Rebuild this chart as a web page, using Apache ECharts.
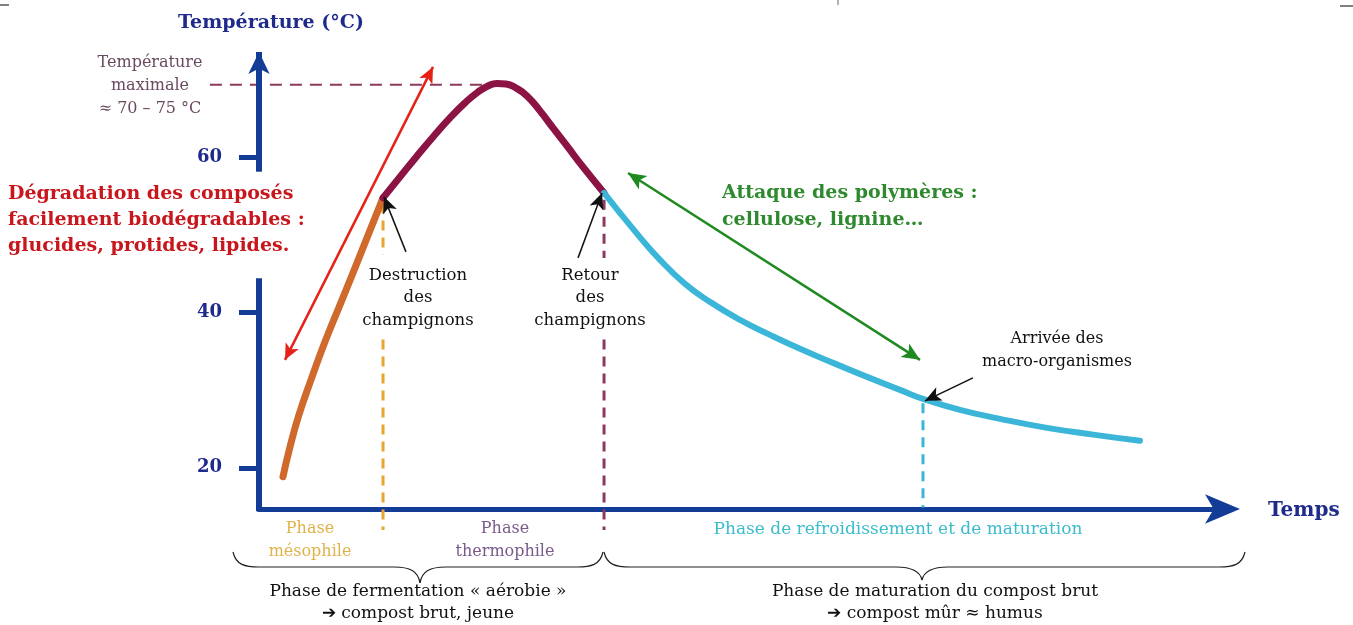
<!DOCTYPE html>
<html lang="fr">
<head>
<meta charset="UTF-8">
<title>Température du compost</title>
<style>
  html, body { margin: 0; padding: 0; background: #fff; }
  #chart { width: 1353px; height: 625px; }
</style>
</head>
<body>
<div id="chart"></div>
<script src="https://cdn.jsdelivr.net/npm/echarts@6/dist/echarts.min.js"></script>
<script>
// courbe de température par phase : [temps (unités arbitraires), °C]
var mesophilePts = [[2.49, 18.84], [3.22, 22.70], [4.15, 26.82], [5.40, 31.32], [6.85, 36.21],
    [8.41, 40.96], [9.97, 45.72], [11.42, 50.23], [12.88, 54.73]];
var thermophilePts = [[12.88, 54.73], [14.64, 57.43], [16.41, 60.13], [18.07, 62.57], [19.83, 65.02],
    [21.39, 66.95], [22.74, 68.36], [23.78, 69.13], [24.71, 69.45], [25.65, 69.39], [26.69, 68.87],
    [27.83, 67.85], [29.18, 65.92], [30.53, 63.73], [31.98, 61.41], [33.64, 58.71], [35.83, 55.37]];
var maturationPts = [[35.83, 55.37], [38.84, 50.74], [41.64, 46.75], [44.24, 43.67], [46.83, 41.35],
    [49.95, 39.04], [53.06, 37.11], [56.18, 35.31], [59.61, 33.50], [63.14, 31.70], [66.56, 30.03],
    [68.95, 28.87], [72.79, 27.46], [76.95, 26.30], [81.83, 25.14], [86.81, 24.24], [91.48, 23.47]];

var yTicks = [20, 40, 60];
var yRange = [14.7, 73.5];
var xRange = [0, 100];

// repères (mêmes unités que la courbe)
var maxTempLine = [[-5.1, 69.3], [23.5, 69.3]];
var mesoLimitTop = [[12.88, 54.0], [12.88, 47.4]];
var mesoLimitLow = [[12.88, 36.5], [12.88, 12.0]];
var thermoLimitTop = [[35.83, 54.5], [35.83, 47.0]];
var thermoLimitLow = [[35.83, 36.5], [35.83, 12.0]];
var macroLimit = [[68.95, 28.3], [68.95, 14.9]];
var yAxisLow = [[0, 14.4], [0, 44.4]];
var yAxisHigh = [[0, 58.1], [0, 73.5]];
var degradationArrow = [[2.70, 33.89], [18.07, 71.58]];
var polymerArrow = [[38.32, 57.94], [68.64, 33.89]];
var destructionPointer = [[15.26, 47.78], [12.98, 54.86]];
var retourPointer = [[33.13, 47.01], [35.62, 55.37]];
var macroPointer = [[74.14, 31.58], [69.16, 28.62]];

var serif = 'DejaVu Serif';
var navy = '#1e2a8c';
var axisBlue = '#133c96';

function seg(pts, color, width, symStart, symEnd, symSize) {
    return [
        {coord: pts[0], symbol: symStart || 'none', symbolSize: symSize || 10,
            lineStyle: {color: color, width: width, type: 'solid'}},
        {coord: pts[1], symbol: symEnd || 'none', symbolSize: symSize || 10}
    ];
}

function guide(pts, color, width, type) {
    return {
        type: 'line',
        data: pts,
        clip: false,
        symbol: 'none',
        silent: true,
        z: 1,
        lineStyle: {color: color, width: width, type: type || 'solid'}
    };
}

function txt(x, y, text, size, color, extra) {
    return {type: 'text', z: 100, style: {
        text: text,
        x: x,
        y: y,
        font: (extra && extra.bold ? 'bold ' : '') + size + 'px "' + serif + '"',
        fill: color,
        align: (extra && extra.align) || 'center',
        verticalAlign: 'middle',
        lineHeight: (extra && extra.lh) || size + 6
    }};
}

// accolade horizontale : extrémités x1/x2, pointe en xt
function brace(x1, xt, x2, yEnd, yBar, yTip) {
    var s = {fill: 'none', stroke: '#222', lineWidth: 1.2};
    var r = 26;
    function bz(a, b, c, d, e, f, g, h) {
        return {type: 'bezierCurve', z: 100, style: s,
            shape: {x1: a, y1: b, cpx1: c, cpy1: d, cpx2: e, cpy2: f, x2: g, y2: h}};
    }
    function ln(a, b, c, d) {
        return {type: 'line', z: 100, style: s, shape: {x1: a, y1: b, x2: c, y2: d}};
    }
    return [
        bz(x1, yEnd, x1 + 3, yBar - 2, x1 + 12, yBar, x1 + r, yBar),
        ln(x1 + r, yBar, xt - r, yBar),
        bz(xt - r, yBar, xt - 10, yBar, xt - 2, yBar + 4, xt, yTip),
        bz(xt, yTip, xt + 2, yBar + 4, xt + 10, yBar, xt + r, yBar),
        ln(xt + r, yBar, x2 - r, yBar),
        bz(x2 - r, yBar, x2 - 12, yBar, x2 - 3, yBar - 2, x2, yEnd)
    ];
}

function curve(pts, color, width) {
    return {
        type: 'line',
        data: pts,
        smooth: 0.5,
        symbol: 'none',
        silent: true,
        z: 3,
        lineStyle: {color: color, width: width, cap: 'round', join: 'round'}
    };
}

var graphics = [
    txt(271, 23, 'Température (°C)', 19, navy, {bold: true}),
    txt(1268, 511, 'Temps', 20, navy, {bold: true, align: 'left'}),
    txt(150, 86, 'Température\nmaximale\n≈ 70 – 75 °C', 16, '#6a4a60', {lh: 23}),
    txt(8, 220, 'Dégradation des composés\nfacilement biodégradables :\nglucides, protides, lipides.', 19, '#c8161d', {bold: true, align: 'left', lh: 26}),
    txt(722, 207, 'Attaque des polymères :\ncellulose, lignine…', 19, '#2f8a2f', {bold: true, align: 'left', lh: 27}),
    txt(418, 298, 'Destruction\ndes\nchampignons', 16.5, '#111', {lh: 22.5}),
    txt(590, 298, 'Retour\ndes\nchampignons', 16.5, '#111', {lh: 22.5}),
    txt(1057, 350, 'Arrivée des\nmacro-organismes', 16, '#111', {lh: 23}),
    txt(310, 540, 'Phase\nmésophile', 16, '#e0b24a', {lh: 23}),
    txt(505, 540, 'Phase\nthermophile', 16, '#7a5a8a', {lh: 23}),
    txt(898, 530, 'Phase de refroidissement et de maturation', 17, '#3bbccc'),
    txt(418, 603, 'Phase de fermentation « aérobie »\n➔ compost brut, jeune', 17, '#111', {lh: 22}),
    txt(935, 603, 'Phase de maturation du compost brut\n➔ compost mûr ≈ humus', 17, '#111', {lh: 22}),
    {type: 'line', z: 100, shape: {x1: 0, y1: 5, x2: 9, y2: 5}, style: {stroke: '#000', lineWidth: 1}},
    {type: 'line', z: 100, shape: {x1: 1340, y1: 6, x2: 1353, y2: 6}, style: {stroke: '#000', lineWidth: 1}},
    {type: 'line', z: 100, shape: {x1: 838, y1: 0, x2: 838, y2: 5}, style: {stroke: '#666', lineWidth: 1}}
].concat(brace(233, 420, 603, 552, 567, 583), brace(604, 922, 1245, 552, 567, 580));

graphics.forEach(function (g, i) {
    g.id = 'g' + i;
});

var option = {
    animation: false,
    backgroundColor: '#fff',
    grid: {left: 259, right: 131, top: 52, bottom: 116},
    xAxis: {
        type: 'value',
        min: xRange[0],
        max: xRange[1],
        axisLine: {
            show: true,
            onZero: false,
            symbol: ['none', 'arrow'],
            symbolSize: [22, 35],
            symbolOffset: [0, 18],
            lineStyle: {color: axisBlue, width: 5}
        },
        axisTick: {show: false},
        axisLabel: {show: false},
        splitLine: {show: false}
    },
    yAxis: {
        type: 'value',
        min: yRange[0],
        max: yRange[1],
        axisLine: {show: false},
        axisTick: {
            show: true,
            customValues: yTicks,
            length: 20,
            lineStyle: {color: axisBlue, width: 5}
        },
        axisLabel: {
            customValues: yTicks,
            margin: 37,
            color: navy,
            fontFamily: serif,
            fontWeight: 'bold',
            fontSize: 18
        },
        splitLine: {show: false}
    },
    series: [
        guide(yAxisLow, axisBlue, 6),
        guide(mesoLimitTop, '#e8a532', 3, [10, 7]),
        guide(mesoLimitLow, '#e8a532', 3, [10, 7]),
        guide(thermoLimitTop, '#8c3a64', 3, [10, 7]),
        guide(thermoLimitLow, '#8c3a64', 3, [10, 7]),
        guide(macroLimit, '#3bb6d8', 3, [10, 7]),
        curve(mesophilePts, '#d0692c', 7),
        curve(thermophilePts, '#8c1444', 7),
        curve(maturationPts, '#3bb6d8', 6),
        {
            type: 'line',
            data: [],
            clip: false,
            silent: true,
            z: 4,
            markLine: {
                silent: true,
                animation: false,
                label: {show: false},
                emphasis: {disabled: true},
                symbol: ['none', 'none'],
                data: [
                    seg(yAxisHigh, axisBlue, 6, 'none', 'arrow', [16, 22]),
                    seg(degradationArrow, '#e62117', 2.5, 'arrow', 'arrow', [11, 16]),
                    seg(polymerArrow, '#1f8a1f', 2.5, 'arrow', 'arrow', [12, 18]),
                    seg(destructionPointer, '#111', 1.5, 'none', 'arrow', [11, 16]),
                    seg(retourPointer, '#111', 1.5, 'none', 'arrow', [11, 16]),
                    seg(macroPointer, '#111', 1.5, 'none', 'arrow', [11, 16])
                ]
            }
        }
    ],
    graphic: graphics
};

var myChart = echarts.init(document.getElementById('chart'));
myChart.setOption(option);

// la ligne de température maximale déborde à gauche de l'axe : on la place via l'échelle de la grille
var a = myChart.convertToPixel({gridIndex: 0}, maxTempLine[0]);
var b = myChart.convertToPixel({gridIndex: 0}, maxTempLine[1]);
myChart.setOption({
    graphic: [{
        id: 'maxTemp',
        type: 'line',
        z: 1,
        shape: {x1: a[0], y1: a[1], x2: b[0], y2: b[1]},
        style: {stroke: '#8c3a5c', lineWidth: 2, lineDash: [12, 8]}
    }]
});
</script>
</body>
</html>
